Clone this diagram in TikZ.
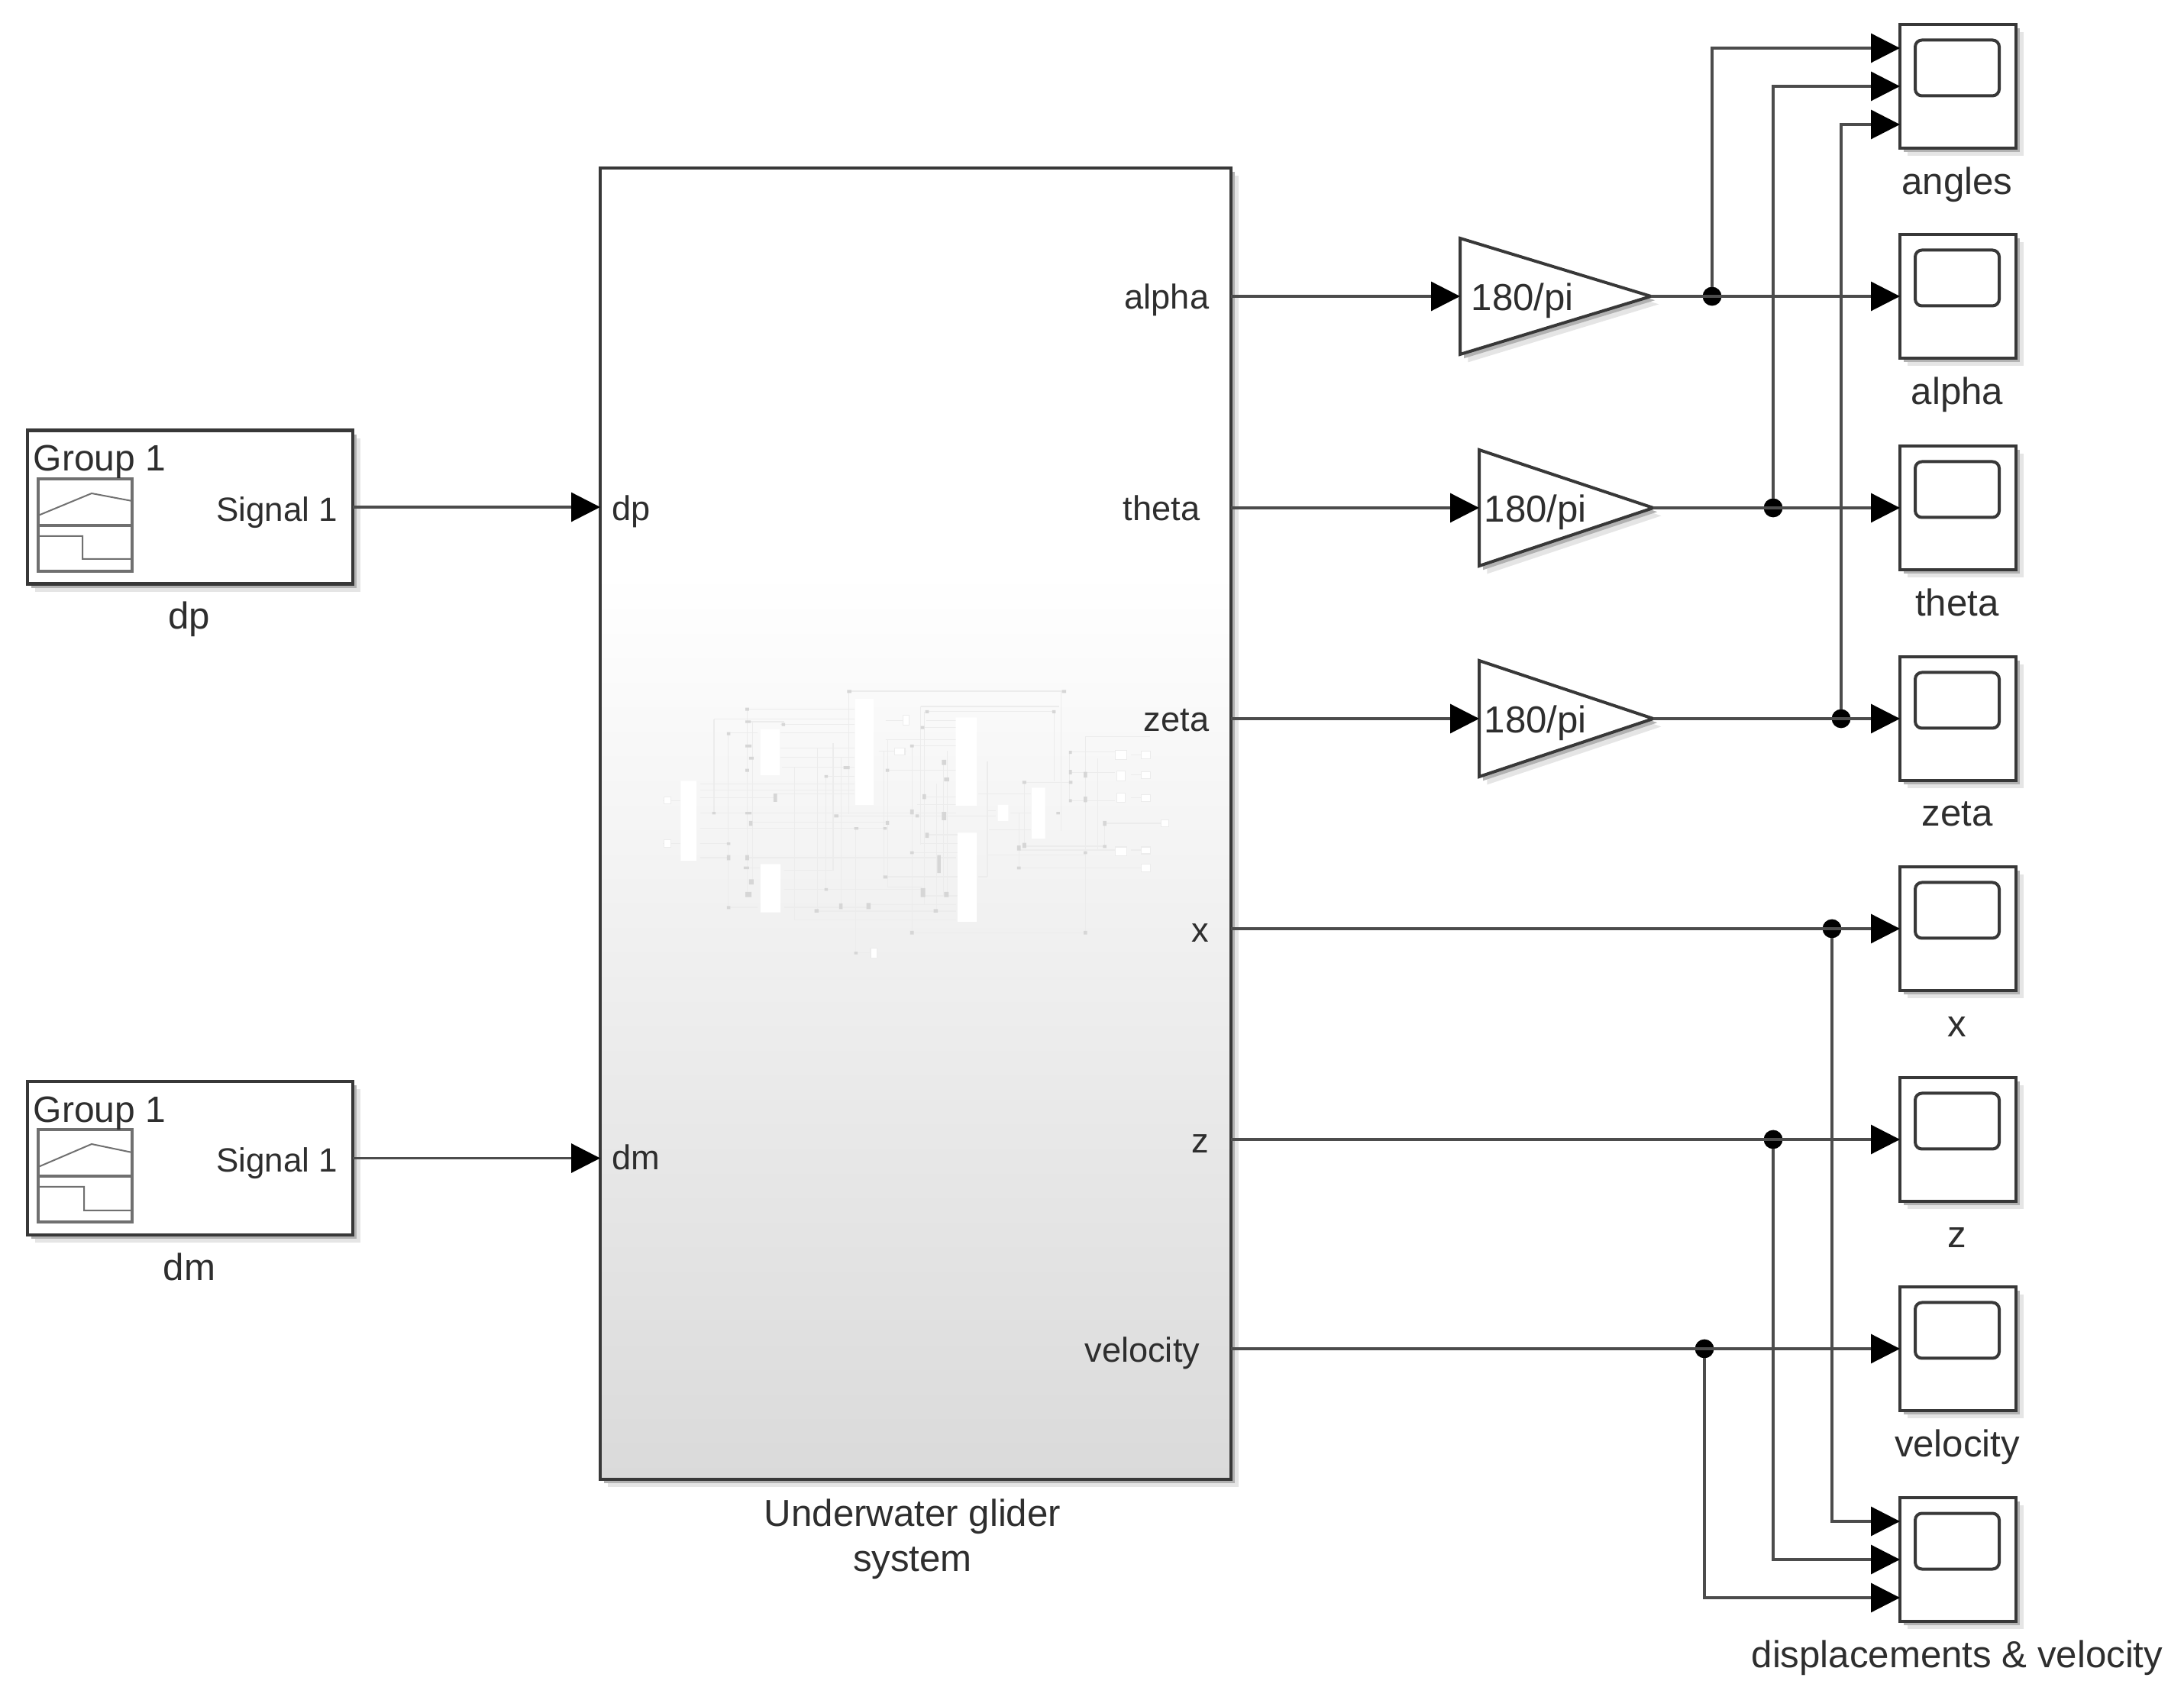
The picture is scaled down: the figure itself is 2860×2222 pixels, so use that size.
\documentclass[tikz,border=0pt]{standalone}
\usepackage{fontspec}
\setmainfont{Liberation Sans}
\usetikzlibrary{arrows.meta,shapes.geometric,shadows}
\newlength{\du}
\setlength{\du}{0.25pt}
\definecolor{linecolor}{rgb}{0.300000, 0.300000, 0.300000}
\definecolor{boxcolor}{rgb}{0.220000, 0.220000, 0.220000}
\definecolor{textcolor}{rgb}{0.180000, 0.180000, 0.180000}
\definecolor{shadowcolor}{rgb}{0.700000, 0.700000, 0.700000}
\definecolor{farshadowcolor}{rgb}{0.900000, 0.900000, 0.900000}
\definecolor{wirecolor}{rgb}{0.925000, 0.925000, 0.925000}
\definecolor{spotcolor}{rgb}{0.840000, 0.840000, 0.840000}
\definecolor{shadebottom}{rgb}{0.855000, 0.855000, 0.855000}
\pgfdeclareverticalshading{glidershade}{100bp}{color(0bp)=(shadebottom); color(25bp)=(shadebottom); color(59.6bp)=(white); color(100bp)=(white)}
\tikzset{
  blockshadow/.style={drop shadow={shadow xshift=2.6pt,shadow yshift=-2.6pt,fill=farshadowcolor,opacity=1},drop shadow={shadow xshift=1.3pt,shadow yshift=-1.3pt,fill=shadowcolor,opacity=1}},
  sourceblock/.style={draw=boxcolor,fill=white,line width=1.1pt,minimum width=106.5pt,minimum height=50.25pt,inner sep=0pt,outer sep=0pt,blockshadow},
  gliderblock/.style={draw=boxcolor,shading=glidershade,line width=1.1pt,minimum width=206.5pt,minimum height=429.25pt,inner sep=0pt,outer sep=0pt,blockshadow},
  gainblock/.style={draw=boxcolor,fill=white,line width=1pt,shape=isosceles triangle,isosceles triangle stretches,shape border rotate=0,minimum width=38pt,minimum height=62.5pt,inner sep=0pt,outer sep=0pt,anchor=lower side,blockshadow},
  scopeblock/.style={draw=boxcolor,fill=white,line width=1.1pt,minimum width=38pt,minimum height=40.5pt,inner sep=0pt,outer sep=0pt,blockshadow},
  screenblock/.style={draw=boxcolor,fill=white,line width=1pt,rounded corners=2.2pt,minimum width=27.5pt,minimum height=18.25pt,inner sep=0pt,outer sep=0pt},
  icon/.style={draw=linecolor!80,line width=0.8pt},
  signal/.style={-{Triangle[length=9.5pt,width=9.5pt,color=black]},draw=linecolor,line width=0.8pt},
  junction/.style={circle,fill=black,minimum size=6.2pt,inner sep=0pt,outer sep=0pt},
  caption/.style={text=textcolor,font=\fontsize{12.3}{14.75}\selectfont,inner sep=0pt,anchor=base,yshift=-0.4pt},
  port/.style={text=textcolor,font=\fontsize{11.3}{13.5}\selectfont,inner sep=0pt,yshift=-0.4pt},
  thumbwire/.style={draw=wirecolor,line width=0.3pt},
}
\begin{document}
\begin{tikzpicture}[x=\du,y=-\du]
\useasboundingbox (0,0) rectangle (2860,2222);
% sources
\node[sourceblock] (srcdp) at (249,664) {};
\draw[icon] (50,627) rectangle (173,748) (50,688)--(173,688);
\draw[icon,line width=0.5pt] (50,675)--(120,646)--(173,656) (50,702)--(108,702)--(108,732)--(173,732);
\node[caption,font=\fontsize{12}{14}\selectfont,anchor=base west] (groupdp) at (43,615) {Group 1};
\node[port,font=\fontsize{11}{13}\selectfont,anchor=base east] (signaldp) at (443,681) {Signal 1};
\node[caption] (labeldp) at (248,822) {dp};
\node[sourceblock] (srcdm) at (249,1516.5) {};
\draw[icon] (50,1479) rectangle (173,1600) (50,1540)--(173,1540);
\draw[icon,line width=0.5pt] (50,1528)--(120,1498)--(173,1509) (50,1554)--(110,1554)--(110,1585)--(173,1585);
\node[caption,font=\fontsize{12}{14}\selectfont,anchor=base west] (groupdm) at (43,1468) {Group 1};
\node[port,font=\fontsize{11}{13}\selectfont,anchor=base east] (signaldm) at (443,1533) {Signal 1};
\node[caption] (labeldm) at (248,1675) {dm};
% glider block
\node[gliderblock] (glider) at (1199,1078.5) {};
\begin{scope}[shift={(850,880)},x=0.459\du,y=-0.333\du]
\draw[thumbwire] (570,75)--(1185,75) (775,135)--(1170,135) (790,155)--(1155,155) (275,145)--(585,145) (185,185)--(585,185) (280,195)--(385,195) (225,240)--(310,240) (375,205)--(585,205) (375,240)--(585,240) (375,300)--(585,300) (375,335)--(585,335) (380,375)--(585,375) (505,410)--(585,410) (145,440)--(585,440) (145,465)--(585,465) (145,495)--(360,495) (360,480)--(585,480) (40,505)--(90,505) (145,555)--(750,555) (285,590)--(680,590) (145,615)--(680,615) (530,565)--(990,565) (145,675)--(225,675) (40,675)--(90,675) (145,730)--(225,730) (275,730)--(875,730) (275,770)--(315,770) (385,780)--(525,780) (385,855)--(780,855) (225,925)--(310,925) (385,925)--(625,925) (480,940)--(875,940) (625,915)--(875,915) (415,975)--(875,975) (750,1025)--(1245,1025) (590,1105)--(640,1105) (675,190)--(730,190) (675,265)--(875,265) (655,310)--(735,310) (680,385)--(875,385) (750,290)--(875,290) (790,190)--(875,190) (775,218)--(875,218) (780,490)--(875,490) (765,520)--(875,520) (760,555)--(875,555) (940,480)--(1090,480) (965,545)--(990,545) (1030,555)--(1090,555) (970,620)--(1090,620) (965,720)--(1245,720) (940,805)--(965,805) (790,640)--(880,640) (775,675)--(880,675) (750,710)--(880,710) (670,805)--(880,805) (680,845)--(780,845) (780,880)--(880,880) (1055,770)--(1420,770) (1070,685)--(1300,685) (1055,700)--(1330,700) (1200,315)--(1330,315) (1200,395)--(1330,395) (1245,255)--(1430,255) (1200,505)--(1330,505) (1070,435)--(1200,435) (1300,595)--(1465,595) (1375,325)--(1420,325) (1375,405)--(1420,405) (1375,495)--(1420,495) (1375,700)--(1420,700);
\draw[thumbwire] (185,185)--(185,555) (225,240)--(225,925) (280,145)--(280,870) (295,195)--(295,835) (415,375)--(415,975) (480,300)--(480,940) (505,410)--(505,855) (525,280)--(525,780) (548,335)--(548,925) (570,75)--(570,560) (590,615)--(590,1105) (680,265)--(680,845) (670,310)--(670,805) (750,290)--(750,1025) (775,135)--(775,680) (785,155)--(785,915) (820,440)--(820,940) (850,310)--(850,880) (840,350)--(840,880) (965,350)--(965,805) (1055,555)--(1055,770) (1070,435)--(1070,685) (1175,75)--(1175,625) (1155,155)--(1155,430) (1200,315)--(1200,505) (1245,255)--(1245,1025) (1300,595)--(1300,685) (1280,340)--(1280,700);
\fill[white] (90,428) rectangle (135,742) (318,225) rectangle (372,405) (588,105) rectangle (640,522) (875,178) rectangle (935,525) (318,755) rectangle (375,945) (880,632) rectangle (935,982) (995,522) rectangle (1025,585) (1092,455) rectangle (1130,655);
\draw[thumbwire,fill=white] (1330,308) rectangle (1362,345) (1335,390) rectangle (1358,428) (1335,475) rectangle (1358,513) (1330,688) rectangle (1362,722) (725,170) rectangle (742,208) (700,298) rectangle (730,325) (632,1085) rectangle (650,1125) (1405,312) rectangle (1430,340) (1405,392) rectangle (1430,418) (1405,482) rectangle (1430,508) (1460,580) rectangle (1482,608) (1405,688) rectangle (1430,715) (1405,755) rectangle (1430,785) (42,492) rectangle (62,518) (42,660) rectangle (62,690);
\fill[spotcolor] (565,70) rectangle (577,82) (1178,70) rectangle (1190,82) (275,140) rectangle (285,152) (275,190) rectangle (290,200) (222,236) rectangle (232,248) (378,200) rectangle (388,212) (275,285) rectangle (292,296) (285,333) rectangle (298,344) (275,380) rectangle (285,392) (555,370) rectangle (572,382) (500,405) rectangle (510,416) (355,478) rectangle (365,510) (180,550) rectangle (190,560) (275,550) rectangle (292,560) (285,585) rectangle (295,605) (528,560) rectangle (540,572) (745,540) rectangle (755,560) (760,560) rectangle (770,572) (835,550) rectangle (848,582) (675,585) rectangle (685,600) (668,610) rectangle (678,620) (585,610) rectangle (597,620) (222,670) rectangle (232,680) (222,720) rectangle (232,740) (275,720) rectangle (285,740) (270,765) rectangle (285,775) (285,815) rectangle (298,835) (275,865) rectangle (292,885) (500,850) rectangle (510,860) (620,908) rectangle (632,932) (472,932) rectangle (484,946) (542,910) rectangle (552,932) (222,920) rectangle (232,932) (812,932) rectangle (824,946) (775,850) rectangle (788,885) (842,865) rectangle (855,885) (822,720) rectangle (832,790) (745,705) rectangle (755,716) (668,800) rectangle (680,812) (788,632) rectangle (798,652) (675,380) rectangle (685,392) (775,212) rectangle (785,224) (788,150) rectangle (798,162) (1150,150) rectangle (1160,162) (745,285) rectangle (755,296) (780,480) rectangle (790,500) (842,415) rectangle (856,430) (835,345) rectangle (848,365) (1065,428) rectangle (1076,440) (1198,428) rectangle (1208,440) (1198,310) rectangle (1206,322) (1198,385) rectangle (1206,402) (1240,392) rectangle (1250,415) (1198,500) rectangle (1206,512) (1240,490) rectangle (1250,512) (1162,550) rectangle (1172,560) (1295,585) rectangle (1305,605) (1295,680) rectangle (1305,692) (1065,672) rectangle (1076,692) (1050,682) rectangle (1060,702) (1050,765) rectangle (1060,776) (1240,705) rectangle (1250,716) (745,1018) rectangle (755,1032) (1240,1018) rectangle (1250,1032) (585,1100) rectangle (595,1110);
\end{scope}
\node[port,anchor=base west] (portlabeldp) at (801,680) {dp};
\node[port,anchor=base west] (portlabeldm) at (801,1530) {dm};
\node[port,anchor=base east] (portalpha) at (1584,403) {alpha};
\node[port,anchor=base east] (porttheta) at (1572,680) {theta};
\node[port,anchor=base east] (portzeta) at (1584,956) {zeta};
\node[port,anchor=base east] (portx) at (1584,1232) {x};
\node[port,anchor=base east] (portz) at (1584,1508) {z};
\node[port,anchor=base east] (portvelocity) at (1572,1782) {velocity};
\node[caption,align=center,anchor=center] (labelglider) at (1195,2014) {Underwater glider\\system};
% gains
\node[gainblock] (gainalpha) at (1912,388) {};
\node[caption,anchor=base west] (textalpha) at (1926,405) {180/pi};
\node[gainblock,minimum height=57pt] (gaintheta) at (1937,665) {};
\node[caption,anchor=base west] (texttheta) at (1943,682) {180/pi};
\node[gainblock,minimum height=57pt] (gainzeta) at (1937,941) {};
\node[caption,anchor=base west] (textzeta) at (1943,958) {180/pi};
% scopes
\node[scopeblock] (scopeangles) at (2564,113) {};
\node[screenblock] (screenangles) at (2563,89) {};
\node[caption] (labelangles) at (2563,253) {angles};
\node[scopeblock] (scopealpha) at (2564,388) {};
\node[screenblock] (screenalpha) at (2563,364) {};
\node[caption] (labelalpha) at (2563,528) {alpha};
\node[scopeblock] (scopetheta) at (2564,665) {};
\node[screenblock] (screentheta) at (2563,641) {};
\node[caption] (labeltheta) at (2563,805) {theta};
\node[scopeblock] (scopezeta) at (2564,941) {};
\node[screenblock] (screenzeta) at (2563,917) {};
\node[caption] (labelzeta) at (2563,1080) {zeta};
\node[scopeblock] (scopex) at (2564,1216) {};
\node[screenblock] (screenx) at (2563,1192) {};
\node[caption] (labelx) at (2563,1356) {x};
\node[scopeblock] (scopez) at (2564,1492) {};
\node[screenblock] (screenz) at (2563,1468) {};
\node[caption] (labelz) at (2563,1632) {z};
\node[scopeblock] (scopevelocity) at (2564,1766) {};
\node[screenblock] (screenvelocity) at (2563,1742) {};
\node[caption] (labelvelocity) at (2563,1906) {velocity};
\node[scopeblock] (scopeall) at (2564,2042) {};
\node[screenblock] (screenall) at (2563,2018) {};
\node[caption] (labelall) at (2563,2182) {displacements \& velocity};
% branch points
\node[junction] (jalpha) at (2242,388) {};
\node[junction] (jtheta) at (2322,665) {};
\node[junction] (jzeta) at (2411,941) {};
\node[junction] (jx) at (2399,1216) {};
\node[junction] (jz) at (2322,1492) {};
\node[junction] (jvelocity) at (2232,1766) {};
\coordinate (indp) at (glider.west |- srcdp.east);
\coordinate (indm) at (glider.west |- srcdm.east);
\coordinate (outalpha) at (glider.east |- scopealpha.west);
\coordinate (outtheta) at (glider.east |- scopetheta.west);
\coordinate (outzeta) at (glider.east |- scopezeta.west);
\coordinate (outx) at (glider.east |- scopex.west);
\coordinate (outz) at (glider.east |- scopez.west);
\coordinate (outvelocity) at (glider.east |- scopevelocity.west);
% connectors
\draw[signal] (srcdp.east) -- (indp);
\draw[signal] (srcdm.east) -- (indm);
\draw[signal] (outalpha) -- (gainalpha.lower side);
\draw[signal] (outtheta) -- (gaintheta.lower side);
\draw[signal] (outzeta) -- (gainzeta.lower side);
\draw[signal] (gainalpha.apex) -- (scopealpha.west);
\draw[signal] (gaintheta.apex) -- (scopetheta.west);
\draw[signal] (gainzeta.apex) -- (scopezeta.west);
\draw[signal] (outx) -- (scopex.west);
\draw[signal] (outz) -- (scopez.west);
\draw[signal] (outvelocity) -- (scopevelocity.west);
\draw[signal] (jalpha) |- ([yshift=12.5pt]scopeangles.west);
\draw[signal] (jtheta) |- (scopeangles.west);
\draw[signal] (jzeta) |- ([yshift=-12.5pt]scopeangles.west);
\draw[signal] (jx) |- ([yshift=12.5pt]scopeall.west);
\draw[signal] (jz) |- (scopeall.west);
\draw[signal] (jvelocity) |- ([yshift=-12.5pt]scopeall.west);
\end{tikzpicture}
\end{document}
